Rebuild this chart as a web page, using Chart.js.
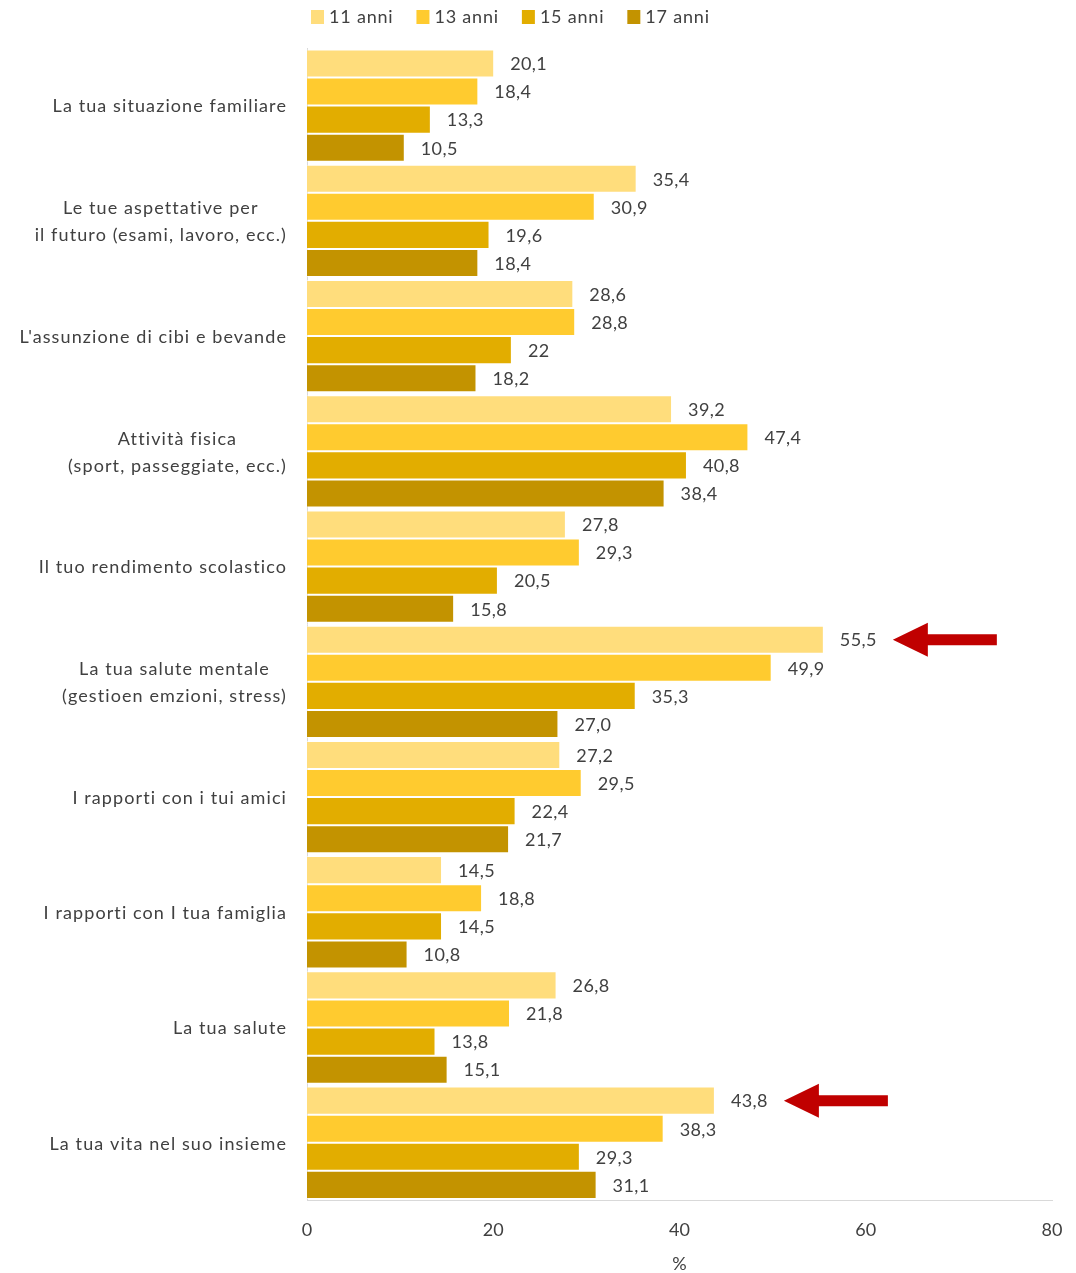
<!DOCTYPE html>
<html lang="it">
<head>
<meta charset="utf-8">
<title>Preoccupazioni per età</title>
<script src="https://cdn.jsdelivr.net/npm/chart.js@4.4.1/dist/chart.umd.min.js"></script>
<style>
  html, body { margin: 0; padding: 0; background: #fff; }
  #wrap { width: 1076px; height: 1273px; }
</style>
</head>
<body>
<div id="wrap"><canvas id="chart" width="1076" height="1273"></canvas></div>
<script>
/* Horizontal grouped bars, four age groups */

const categories = [
  ['La tua situazione familiare'],
  ['Le tue aspettative per', 'il futuro (esami, lavoro, ecc.)'],
  ["L'assunzione di cibi e bevande"],
  ['Attività fisica', '(sport, passeggiate, ecc.)'],
  ['Il tuo rendimento scolastico'],
  ['La tua salute mentale', '(gestioen emzioni, stress)'],
  ['I rapporti con i tui amici'],
  ['I rapporti con I tua famiglia'],
  ['La tua salute'],
  ['La tua vita nel suo insieme']
];

const seriesNames = ['11 anni', '13 anni', '15 anni', '17 anni'];
const anni11 = [20.1, 35.4, 28.6, 39.2, 27.8, 55.5, 27.2, 14.5, 26.8, 43.8];
const anni13 = [18.4, 30.9, 28.8, 47.4, 29.3, 49.9, 29.5, 18.8, 21.8, 38.3];
const anni15 = [13.3, 19.6, 22, 40.8, 20.5, 35.3, 22.4, 14.5, 13.8, 29.3];
const anni17 = [10.5, 18.4, 18.2, 38.4, 15.8, 27.0, 21.7, 10.8, 15.1, 31.1];
const xTicks = [0, 20, 40, 60, 80];

// values that the source prints with a trailing ",0"
const keepDecimal = [{ series: 3, index: 5 }];
// bars pointed at by the red arrows
const highlighted = [{ series: 0, index: 5 }, { series: 0, index: 9 }];

const colors = ['#FFDD7C', '#FFCB2F', '#E2AD00', '#C39300'];
const textColor = '#404040';
const fontFamily = 'Lato, "Open Sans", sans-serif';

function formatValue(v, s, i) {
  const forced = keepDecimal.some(k => k.series === s && k.index === i);
  const txt = forced ? v.toFixed(1) : String(v);
  return txt.replace('.', ',');
}

// Category labels: block right aligned, lines centred to each other
const categoryLabels = {
  id: 'categoryLabels',
  afterDraw(chart) {
    const { ctx, scales: { y } } = chart;
    ctx.save();
    ctx.font = '18px ' + fontFamily;
    ctx.letterSpacing = '1.1px';
    ctx.fillStyle = textColor;
    ctx.textAlign = 'center';
    ctx.textBaseline = 'middle';
    const right = chart.chartArea.left - 20;
    const lineH = 27;
    categories.forEach((lines, i) => {
      const cy = y.getPixelForValue(i) + 1;
      const blockW = Math.max(...lines.map(l => ctx.measureText(l).width));
      const cx = right - blockW / 2;
      lines.forEach((l, k) => {
        ctx.fillText(l, cx, cy + (k - (lines.length - 1) / 2) * lineH);
      });
    });
    ctx.restore();
  }
};

// Value labels at bar ends and red arrows
const valueLabels = {
  id: 'valueLabels',
  afterDatasetsDraw(chart) {
    const { ctx } = chart;
    ctx.save();
    ctx.font = '18px ' + fontFamily;
    ctx.letterSpacing = '0.4px';
    ctx.fillStyle = textColor;
    ctx.textAlign = 'left';
    ctx.textBaseline = 'middle';
    chart.data.datasets.forEach((ds, s) => {
      chart.getDatasetMeta(s).data.forEach((bar, i) => {
        ctx.fillText(formatValue(ds.data[i], s, i), bar.x + 16, bar.y + 1);
      });
    });

    ctx.fillStyle = '#C00000';
    highlighted.forEach(h => {
      const bar = chart.getDatasetMeta(h.series).data[h.index];
      const tx = bar.x + 69;
      const y0 = bar.y;
      ctx.beginPath();
      ctx.moveTo(tx, y0);
      ctx.lineTo(tx + 35, y0 - 17);
      ctx.lineTo(tx + 35, y0 - 5.5);
      ctx.lineTo(tx + 104, y0 - 5.5);
      ctx.lineTo(tx + 104, y0 + 5.5);
      ctx.lineTo(tx + 35, y0 + 5.5);
      ctx.lineTo(tx + 35, y0 + 17);
      ctx.closePath();
      ctx.fill();
    });
    ctx.restore();
  }
};

// Legend drawn by hand so it sits where the original one does
const topLegend = {
  id: 'topLegend',
  afterDraw(chart) {
    const { ctx } = chart;
    ctx.save();
    ctx.font = '18px ' + fontFamily;
    ctx.letterSpacing = '0.8px';
    ctx.textBaseline = 'middle';
    ctx.textAlign = 'left';
    let x = 311;
    const cy = 17;
    seriesNames.forEach((name, s) => {
      ctx.fillStyle = colors[s];
      ctx.fillRect(x, cy - 7, 13, 14);
      ctx.fillStyle = textColor;
      ctx.fillText(name, x + 18, cy);
      x += 18 + ctx.measureText(name).width + 23;
    });
    ctx.restore();
  }
};

const datasets = [anni11, anni13, anni15, anni17].map((values, s) => ({
  label: seriesNames[s],
  data: values,
  backgroundColor: colors[s],
  borderColor: 'rgba(255,255,255,0.55)',
  borderWidth: 1,
  barPercentage: 1,
  categoryPercentage: 0.975
}));

new Chart(document.getElementById('chart'), {
  type: 'bar',
  data: {
    labels: categories.map(c => c.join(' ')),
    datasets: datasets
  },
  options: {
    indexAxis: 'y',
    responsive: false,
    animation: false,
    layout: { padding: { top: 48, right: 24, bottom: 0, left: 0 } },
    plugins: {
      legend: { display: false },
      tooltip: { enabled: false }
    },
    scales: {
      x: {
        min: xTicks[0],
        max: xTicks[xTicks.length - 1],
        afterBuildTicks: scale => { scale.ticks = xTicks.map(v => ({ value: v })); },
        grid: { display: false },
        border: { display: true, color: '#D9D9D9', width: 1 },
        ticks: {
          color: textColor,
          font: { family: fontFamily, size: 18 },
          padding: 11
        },
        title: {
          display: true,
          text: '%',
          color: textColor,
          font: { family: fontFamily, size: 18, lineHeight: 1 },
          padding: { top: 3, bottom: 0 }
        }
      },
      y: {
        grid: { display: false },
        border: { display: true, color: '#D9D9D9', width: 1 },
        ticks: { display: false },
        afterFit: scale => { scale.width = 307; }
      }
    }
  },
  plugins: [categoryLabels, valueLabels, topLegend]
});
</script>
</body>
</html>
